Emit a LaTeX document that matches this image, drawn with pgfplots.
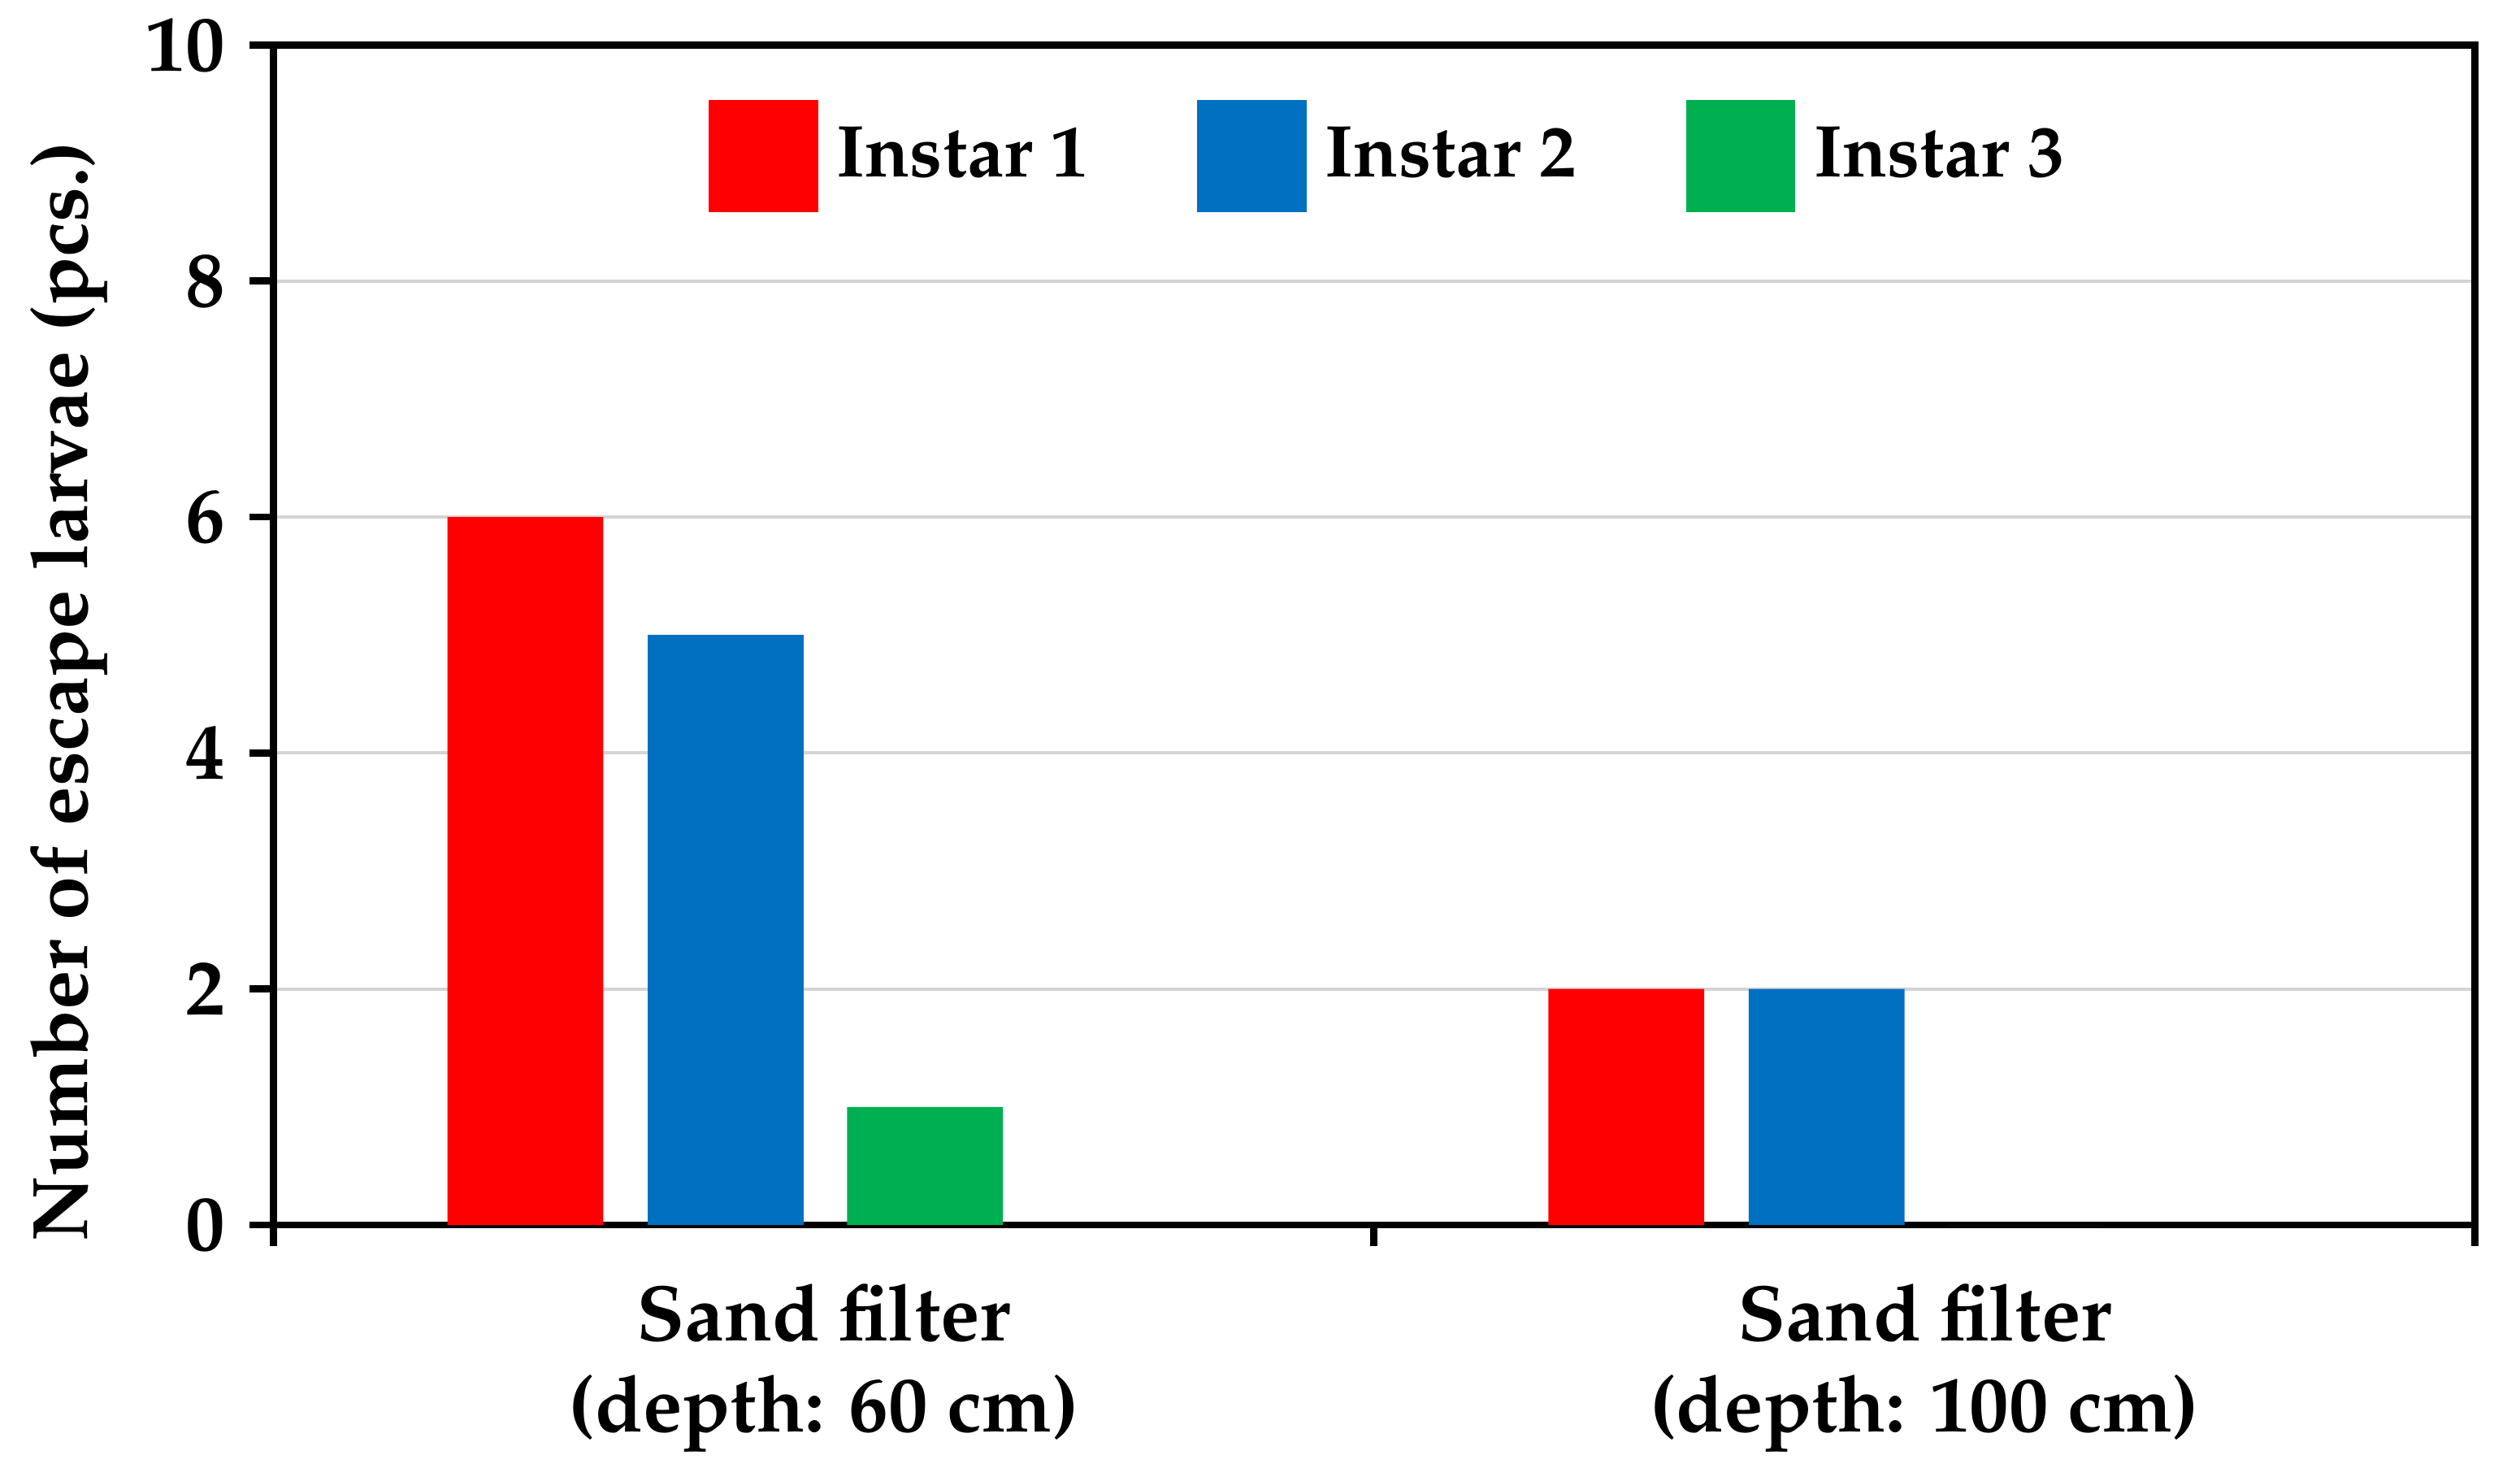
\documentclass[border=0pt]{standalone}
\usepackage[T1]{fontenc}
\usepackage{mathpazo}
\usepackage{pgfplots}
\pgfplotsset{compat=1.18}
\definecolor{cRed}{HTML}{FF0000}
\definecolor{cBlue}{HTML}{0070C0}
\definecolor{cGreen}{HTML}{00B050}
\pgfplotsset{layers/mylayers/.define layer set={axis background,axis grid,main,axis ticks,axis lines,axis tick labels,axis descriptions,axis foreground}{}}
\newcommand{\lblfont}{\fontsize{14.7}{17}\selectfont\bfseries}
\newcommand{\legfont}{\fontsize{13.7}{17}\selectfont\bfseries}
\begin{document}
\begin{tikzpicture}
\begin{axis}[
  set layers=mylayers,
  at={(0,0)}, anchor=south west,
  scale only axis,
  width=411pt, height=220.2pt,
  xmin=-0.5, xmax=1.5,
  ymin=0, ymax=10,
  ytick={0,2,4,6,8,10},
  xtick={0,1},
  xticklabels={{Sand filter\\(depth: 60 cm)},{Sand filter\\(depth: 100 cm)}},
  minor xtick={-0.5,0.5,1.5},
  major x tick style={draw=none},
  xtick pos=bottom, ytick pos=left,
  minor tick length=4pt,
  major tick length=4.5pt,
  tick align=outside,
  tick style={line width=1.35pt, black},
  axis line style={line width=1.35pt},
  ymajorgrids,
  grid style={line width=0.6pt, color=black!17},
  /pgf/number format/assume math mode=true,
  ticklabel style={font=\lblfont},
  xticklabel style={align=center, yshift=-3pt},
  yticklabel style={xshift=-1pt},
  ylabel={Number of escape larvae (pcs.)},
  ylabel style={font=\lblfont, at={(axis description cs:-0.0927,0.452)}, anchor=center},
  legend columns=3,
  legend style={draw=none, fill=none, font=\legfont, inner xsep=0pt, inner ysep=0pt,
    at={(axis description cs:0.1973,0.906)}, anchor=west,
    /tikz/every odd column/.append style={column sep=1.5pt},
    /tikz/every even column/.append style={column sep=18.5pt}},
  legend image code/.code={\fill[#1] (0pt,-10.5pt) rectangle (20.4pt,10.5pt);},
]
\addplot[ybar, bar width=0.1416, bar shift=-0.271, fill=cRed, draw=none] coordinates {(0,6) (1,2)};
\addplot[ybar, bar width=0.1416, bar shift=-0.089, fill=cBlue, draw=none] coordinates {(0,5) (1,2)};
\addplot[ybar, bar width=0.1416, bar shift=0.092, fill=cGreen, draw=none] coordinates {(0,1) (1,0)};
\legend{Instar 1, Instar 2, Instar 3}
\end{axis}
\path (-51pt,-47.7pt) rectangle (419.4pt,228.6pt);
\end{tikzpicture}
\end{document}
